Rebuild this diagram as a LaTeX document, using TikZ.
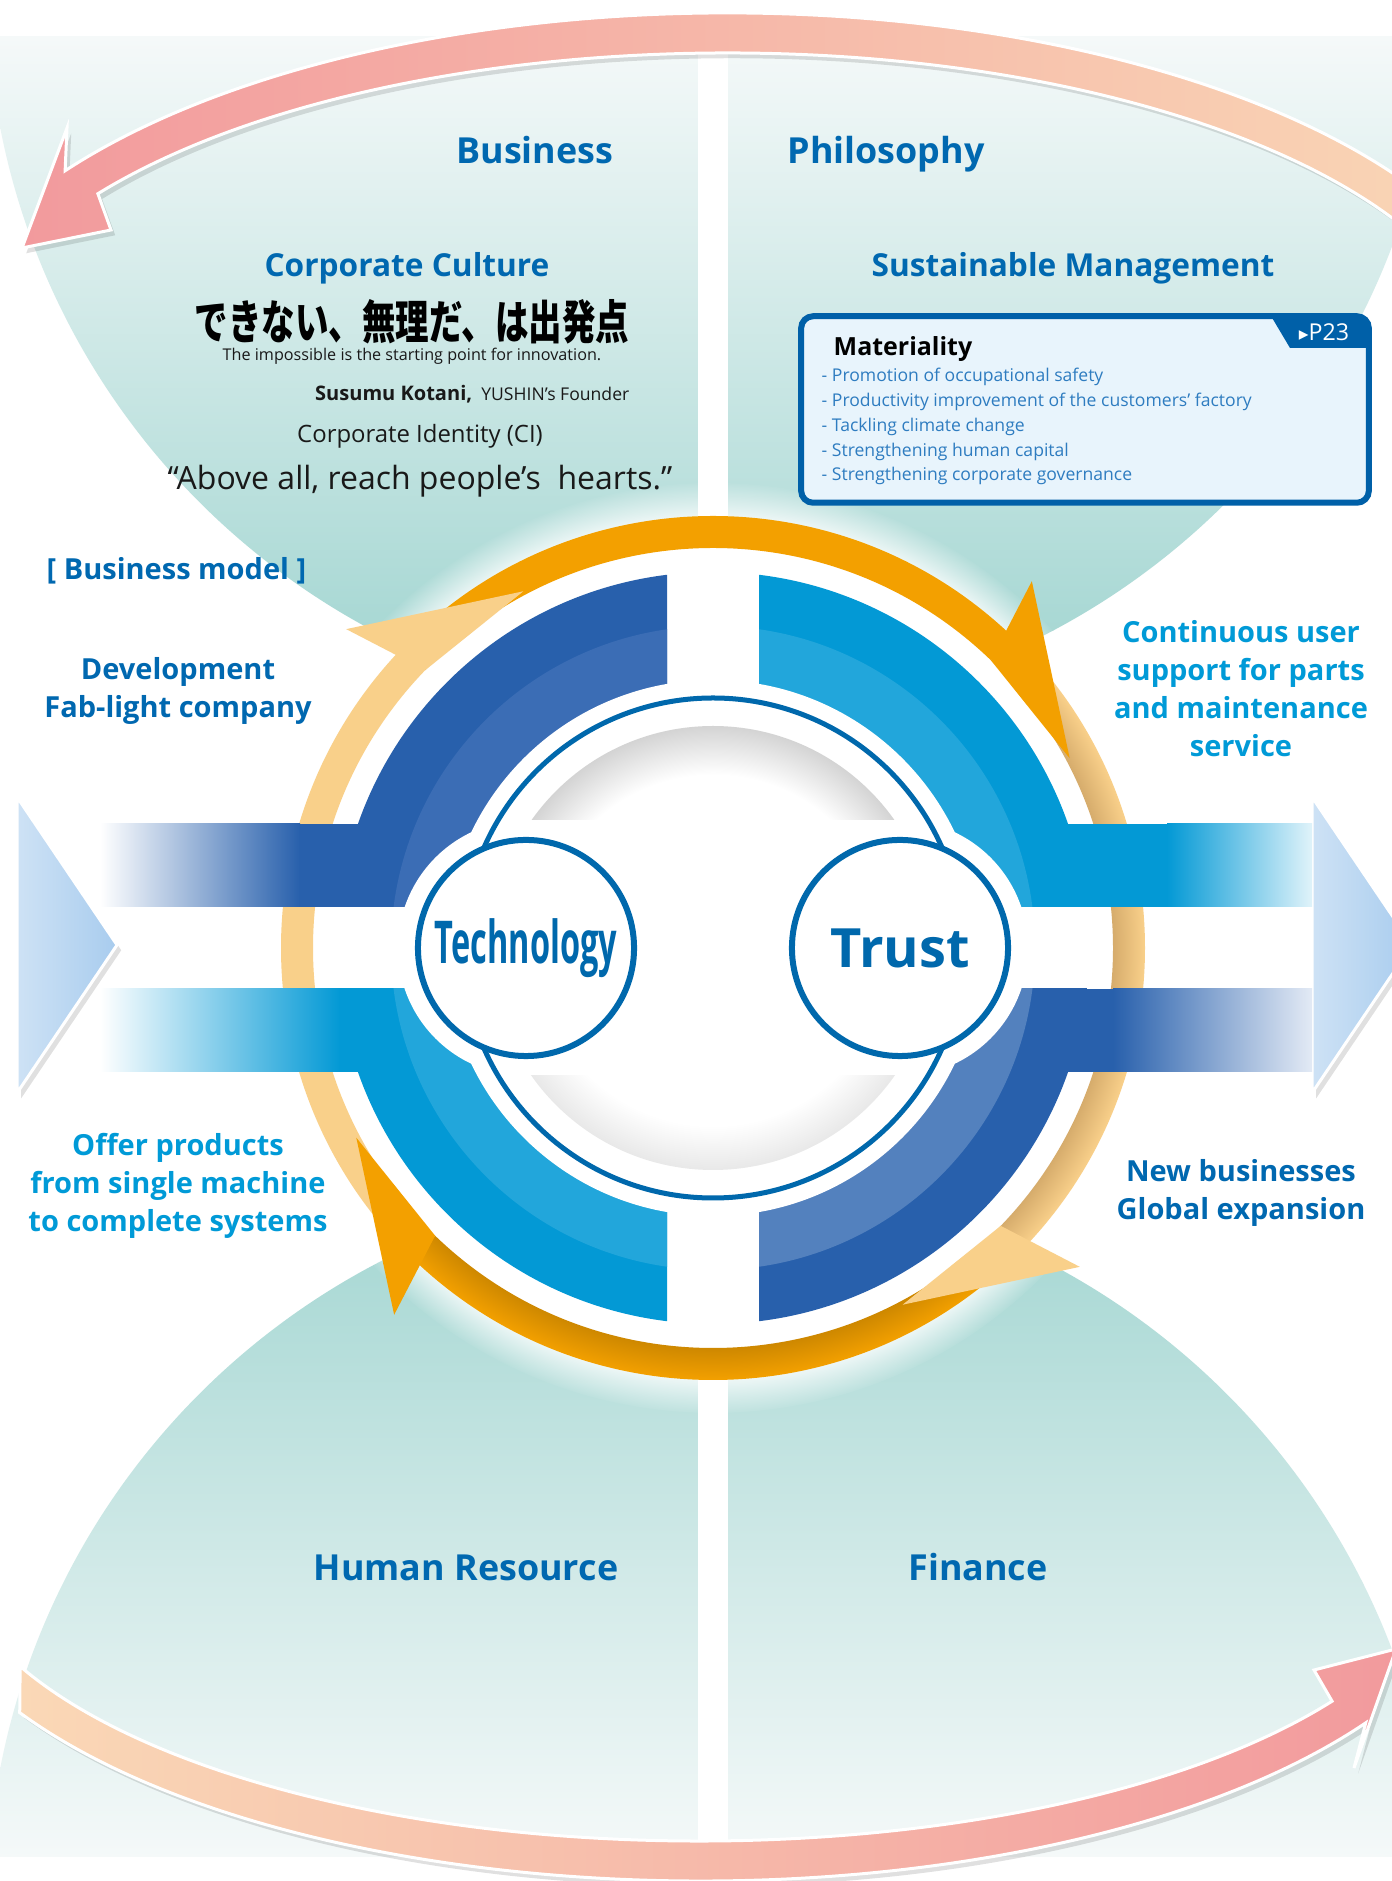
\documentclass[tikz,border=0pt]{standalone}
\usepackage{fontspec}
\usepackage{graphicx}
\setmainfont{Open Sans}
\newfontfamily\jpfont{Noto Sans CJK JP}
\newfontfamily\symfont{DejaVu Sans}
\usetikzlibrary{fadings,shadows}

\definecolor{headblue}{RGB}{0,104,176}
\definecolor{cyantext}{RGB}{0,154,215}
\definecolor{ringline}{RGB}{0,104,172}
\definecolor{bluedark}{RGB}{40,96,172}
\definecolor{bluedarkin}{RGB}{59,109,181}
\definecolor{bluedarkinlt}{RGB}{83,129,190}
\definecolor{bluecyan}{RGB}{3,153,213}
\definecolor{bluecyanin}{RGB}{34,166,219}
\definecolor{orbright}{RGB}{243,160,0}
\definecolor{ordeep}{RGB}{206,136,0}
\definecolor{orpale}{RGB}{249,208,138}
\definecolor{ortan}{RGB}{214,172,108}
\definecolor{tealdark}{RGB}{168,216,212}
\definecolor{teallight}{RGB}{245,249,249}
\definecolor{arrowpink}{RGB}{242,154,157}
\definecolor{arrowpeach}{RGB}{250,216,182}
\definecolor{triblue}{RGB}{206,226,245}
\definecolor{trimid}{RGB}{168,204,238}
\definecolor{matfill}{RGB}{232,244,252}
\definecolor{matborder}{RGB}{0,96,168}
\definecolor{mattext}{RGB}{46,124,192}
\definecolor{cyanfade}{RGB}{224,243,250}
\definecolor{darkfade}{RGB}{227,234,245}
\definecolor{textgray}{RGB}{25,25,25}

\pgfdeclareradialshading{palering}{\pgfpoint{0bp}{0bp}}{color(0bp)=(ortan); color(23.15bp)=(ortan); color(25bp)=(orpale); color(50bp)=(orpale)}
\pgfdeclareradialshading{brightring}{\pgfpoint{0bp}{0bp}}{color(0bp)=(ordeep); color(23.15bp)=(ordeep); color(25bp)=(orbright); color(50bp)=(orbright)}
\pgfdeclareradialshading{domeshade}{\pgfpoint{0bp}{0bp}}{color(0bp)=(white); color(19.5bp)=(white); color(25bp)=(black!17); color(50bp)=(black!17)}
\pgfdeclareradialshading{domeshadelt}{\pgfpoint{0bp}{0bp}}{color(0bp)=(white); color(20bp)=(white); color(25bp)=(black!9); color(50bp)=(black!9)}

\begin{document}
\begin{tikzpicture}[
  x=0.01cm, y=0.01cm,
  heading/.style={font=\fontsize{10.2}{12}\selectfont\bfseries, text=headblue, inner sep=0pt},
  subheading/.style={font=\fontsize{9.0}{11}\selectfont\bfseries, text=headblue, inner sep=0pt},
  sidelabel/.style={align=center, font=\fontsize{8.25}{10.8}\selectfont\bfseries, inner sep=0pt},
  smalltext/.style={text=textgray, inner sep=0pt},
  matitem/.style={anchor=base west, text=mattext, inner sep=0pt, font=\fontsize{5}{6}\selectfont},
  hub/.style={circle, draw=ringline, line width=0.06cm, fill=white, minimum size=2.16cm, inner sep=0pt, text=ringline},
  softshadow/.style={drop shadow={shadow xshift=1.2pt, shadow yshift=-1.5pt, opacity=0.12, fill=black}},
  band/.style={draw=white, line width=0.03cm, softshadow}
]
\useasboundingbox (0,0) rectangle (1392,1881);
\clip (0,0) rectangle (1392,1881);

% Backdrop
\fill[white] (0,0) rectangle (1392,1881);

% Teal fans above and below the ring
\begin{scope}
  \clip (713,1892) circle (726);
  \clip (0,1844) rectangle (1392,1000);
  \shade[top color=teallight, bottom color=tealdark] (0,1844) rectangle (1392,1250);
  \fill[tealdark] (0,1251) rectangle (1392,1100);
\end{scope}
\begin{scope}
  \clip (713,-26) circle (726);
  \clip (0,24) rectangle (1392,800);
  \shade[top color=tealdark, bottom color=teallight] (0,640) rectangle (1392,24);
  \fill[tealdark] (0,639) rectangle (1392,760);
\end{scope}
\fill[white] (698,0) rectangle (728,1881);
\fill[white, path fading=circle with fuzzy edge 10 percent] (713,933) circle (465);

% Top and bottom cycle arrows
\shade[band, left color=arrowpink, right color=arrowpeach]
  ([shift={(727,1498)}]15:808 and 370) arc[start angle=15, end angle=145, x radius=808, y radius=370]
  -- (67,1753) -- (22,1633) -- (111,1651)
  -- ([shift={(727,1498)}]145:768 and 330) arc[start angle=145, end angle=15, x radius=768, y radius=330] -- cycle;
\shade[band, left color=arrowpeach, right color=arrowpink]
  ([shift={(700,345)}]210.8:792 and 345) arc[start angle=210.8, end angle=327.2, x radius=792, y radius=345]
  -- (1354,113) -- (1396,232) -- (1314,211)
  -- ([shift={(700,345)}]327.2:752 and 305) arc[start angle=327.2, end angle=205.3, x radius=752, y radius=305] -- cycle;

% Side chevrons
\shade[band, left color=triblue, right color=trimid] (17,1084) -- (117,936) -- (17,788) -- cycle;
\shade[band, left color=triblue, right color=trimid] (1312,1084) -- (1412,936) -- (1312,788) -- cycle;

% Orange cycle ring
\fill[white] (713,933) circle (400);
\begin{scope}[shift={(713,933)}]
  \fill[orbright] (136:432) arc[start angle=136, end angle=46, radius=432] -- (46:400) arc[start angle=46, end angle=136, radius=400] -- cycle;
  \begin{scope}
    \clip (46:432) arc[start angle=46, end angle=-44, radius=432] -- (-44:400) arc[start angle=-44, end angle=46, radius=400] -- cycle;
    \shade[shading=palering] (0,0) circle (432);
  \end{scope}
  \begin{scope}
    \clip (-44:432) arc[start angle=-44, end angle=-134, radius=432] -- (-134:400) arc[start angle=-134, end angle=-44, radius=400] -- cycle;
    \shade[shading=brightring] (0,0) circle (432);
  \end{scope}
  \fill[orpale] (-134:432) arc[start angle=-134, end angle=-224, radius=432] -- (-224:400) arc[start angle=-224, end angle=-134, radius=400] -- cycle;
  % arrow heads
  \fill[orbright] (46:400) -- (49:486) -- (28:404) -- cycle;
  \fill[orpale] (-44:400) -- (-41:486) -- (-62:404) -- cycle;
  \fill[orbright] (-134:400) -- (-131:486) -- (-152:404) -- cycle;
  \fill[orpale] (136:400) -- (139:486) -- (118:404) -- cycle;
\end{scope}

% Blue quadrants with their bars
\begin{scope}
  \clip (0,974) rectangle (667,1881);
  \shade[left color=white, right color=bluedark] (100,974) rectangle (300,1057);
  \fill[bluedark] (299,974) rectangle (460,1057);
  \fill[bluedark] (713,933) circle (376);
  \fill[bluedarkin] (713,933) circle (322);
\end{scope}
\begin{scope}
  \clip (759,974) rectangle (1392,1881);
  \fill[bluecyan] (960,974) rectangle (1168,1057);
  \shade[left color=bluecyan, right color=cyanfade] (1167,974) rectangle (1312,1057);
  \fill[bluecyan] (713,933) circle (376);
  \fill[bluecyanin] (713,933) circle (322);
\end{scope}
\begin{scope}
  \clip (0,0) rectangle (667,892);
  \shade[left color=white, right color=bluecyan] (100,809) rectangle (340,892);
  \fill[bluecyan] (339,809) rectangle (460,892);
  \fill[bluecyan] (713,933) circle (376);
  \fill[bluecyanin] (713,933) circle (322);
\end{scope}
\begin{scope}
  \clip (759,0) rectangle (1392,892);
  \fill[bluedark] (960,809) rectangle (1114,892);
  \shade[left color=bluedark, right color=darkfade] (1113,809) rectangle (1312,892);
  \fill[bluedark] (713,933) circle (376);
  \fill[bluedarkinlt] (713,933) circle (322);
\end{scope}

% White cut-outs and inner disc
\fill[white] (526,933) circle (128);
\fill[white] (900,933) circle (128);
\fill[white] (713,933) circle (268);
\begin{scope}
  \clip (713,933) circle (222);
  \clip (400,1061) rectangle (1030,1200);
  \shade[shading=domeshade] (713,933) circle (222);
\end{scope}
\begin{scope}
  \clip (713,933) circle (222);
  \clip (400,805) rectangle (1030,650);
  \shade[shading=domeshadelt] (713,933) circle (222);
\end{scope}
\draw[ringline, line width=0.05cm] (713,933) circle (250);

% Hubs
\node[hub, font=\fontsize{16.8}{18}\selectfont\bfseries] (tech) at (526,933) {\scalebox{0.55}[1]{Technology}};
\node[hub, font=\fontsize{15.4}{17}\selectfont\bfseries] (trust) at (900,933) {Trust};

% Four capitals
\node[heading, anchor=base east] (business) at (614,1717) {Business};
\node[heading, anchor=base west] (philosophy) at (787,1717) {Philosophy};
\node[heading, anchor=base] (human) at (466,300) {Human Resource};
\node[heading, anchor=base] (finance) at (978,300) {Finance};
\node[subheading, anchor=base] (culture) at (407,1604) {Corporate Culture};
\node[subheading, anchor=base] (sustain) at (1073,1604) {Sustainable Management};

% Corporate culture
\node[inner sep=0pt] (motto) at (412,1559) {\resizebox{4.34cm}{0.40cm}{\jpfont\bfseries できない、無理だ、は出発点}};
\node[smalltext, anchor=base, font=\fontsize{4.6}{5.5}\selectfont] (mottoen) at (412,1520) {The impossible is the starting point for innovation.};
\node[smalltext, anchor=base east] (founder) at (630,1480) {{\fontsize{5.7}{7}\selectfont\bfseries Susumu Kotani,} {\fontsize{5}{6}\selectfont YUSHIN’s Founder}};
\node[smalltext, anchor=base, font=\fontsize{6.8}{8}\selectfont] (ci) at (420,1438) {Corporate Identity (CI)};
\node[smalltext, anchor=base, font=\fontsize{9.1}{11}\selectfont] (ciquote) at (420,1391) {“Above all, reach people’s~ hearts.”};

% Materiality box
\node[fill=matfill, rounded corners=0.12cm, minimum width=5.66cm, minimum height=1.85cm, inner sep=0pt] (mat) at (1085,1471.5) {};
\begin{scope}
  \clip[rounded corners=0.12cm] (mat.south west) rectangle (mat.north east);
  \fill[matborder] (1268,1570) -- (1375,1570) -- (1375,1533) -- (1290,1533) -- cycle;
\end{scope}
\draw[matborder, line width=0.06cm, rounded corners=0.12cm] (mat.south west) rectangle (mat.north east);
\node[text=white, inner sep=0pt, font=\fontsize{6.6}{8}\selectfont] (p23) at (1324,1549) {{\symfont\fontsize{5.5}{6}\selectfont ▸}P23};
\node[anchor=base west, inner sep=0pt, font=\fontsize{7.1}{8.5}\selectfont\bfseries] (mattitle) at (833,1525) {Materiality};
\foreach \txt [count=\i] in {Promotion of occupational safety,
    Productivity improvement of the customers’ factory,
    Tackling climate change,
    Strengthening human capital,
    Strengthening corporate governance}
  \node[matitem] (mat\i) at (821,{1499-24.75*(\i-1)}) {- \txt};

% Business model
\node[sidelabel, text=headblue, anchor=base west] (bmodel) at (46,1301) {[ Business model ]};
\node[sidelabel, text=headblue] (devel) at (178,1190) {Development\\Fab-light company};
\node[sidelabel, text=cyantext] (support) at (1241,1192) {Continuous user\\support for parts\\and maintenance\\service};
\node[sidelabel, text=cyantext] (offer) at (178,695) {Offer products\\from single machine\\to complete systems};
\node[sidelabel, text=headblue] (newbiz) at (1241,688) {New businesses\\Global expansion};

\end{tikzpicture}
\end{document}
